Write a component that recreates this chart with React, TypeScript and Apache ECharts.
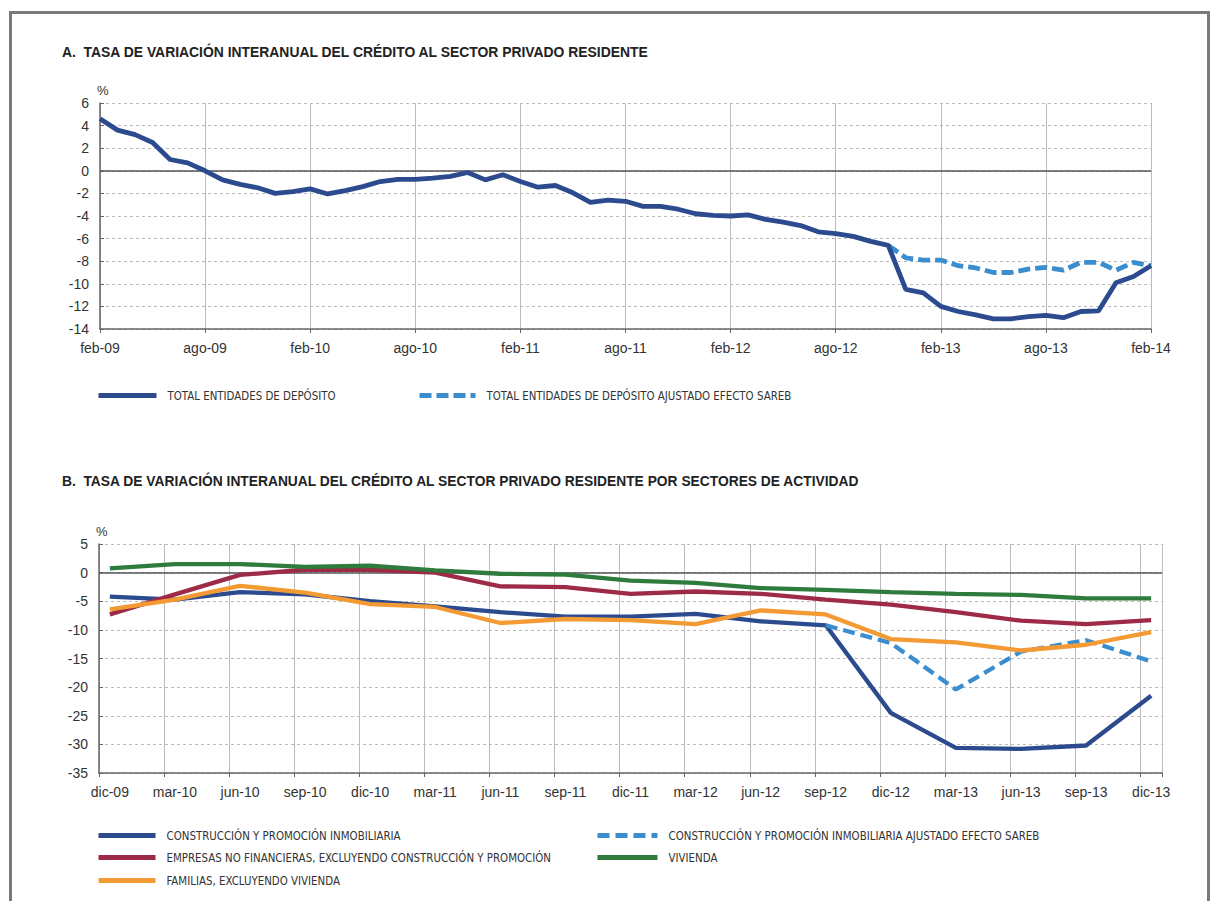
import React, { useEffect, useRef } from "react";
import * as echarts from "echarts";

const MONTHS = ["ene", "feb", "mar", "abr", "may", "jun", "jul", "ago", "sep", "oct", "nov", "dic"];
function monthLabels(startMonth: number, startYear: number, count: number): string[] {
  const out: string[] = [];
  for (let i = 0; i < count; i++) {
    const m = (startMonth + i) % 12;
    const y = startYear + Math.floor((startMonth + i) / 12);
    out.push(MONTHS[m] + "-" + String(y).padStart(2, "0"));
  }
  return out;
}

// Chart A: monthly, feb-09 .. feb-14
const catsA = monthLabels(1, 9, 61);
const totalEntidades = [
  4.6, 3.6, 3.2, 2.5, 1.0, 0.7, 0.0, -0.8, -1.2, -1.5,
  -2.0, -1.85, -1.6, -2.05, -1.75, -1.4, -0.95, -0.75, -0.75, -0.65,
  -0.5, -0.15, -0.8, -0.35, -0.95, -1.45, -1.3, -1.95, -2.8, -2.6,
  -2.7, -3.15, -3.15, -3.4, -3.8, -3.95, -4.0, -3.9, -4.3, -4.55,
  -4.85, -5.4, -5.55, -5.8, -6.25, -6.6, -10.5, -10.8, -12.0, -12.45,
  -12.75, -13.1, -13.1, -12.9, -12.8, -13.0, -12.45, -12.4, -9.9, -9.35,
  -8.4,
];
const totalAjustadoTail = [
  -6.6, -7.7, -7.9, -7.9, -8.4, -8.6, -9.0, -9.0, -8.7, -8.55, -8.8, -8.1, -8.1, -8.8, -8.1, -8.4,
];
const totalAjustado: (number | null)[] = (new Array(61 - totalAjustadoTail.length).fill(null) as (number | null)[]).concat(totalAjustadoTail);

// Chart B: monthly axis dic-09 .. dic-13, quarterly observations
const catsB = monthLabels(11, 9, 49);
const construccion = [-4.2, -4.7, -3.4, -3.8, -5.0, -5.9, -6.9, -7.7, -7.7, -7.2, -8.5, -9.2, -24.5, -30.6, -30.8, -30.2, -21.5];
const construccionSareb = [null, null, null, null, null, null, null, null, null, null, null, -9.2, -12.3, -20.4, -13.8, -11.8, -15.5];
const empresas = [-7.3, -3.8, -0.4, 0.5, 0.5, 0.0, -2.4, -2.55, -3.7, -3.3, -3.7, -4.7, -5.6, -6.9, -8.4, -9.0, -8.3];
const vivienda = [0.75, 1.5, 1.5, 1.0, 1.2, 0.4, -0.2, -0.35, -1.4, -1.8, -2.7, -3.0, -3.4, -3.7, -3.9, -4.5, -4.5];
const familias = [-6.4, -4.7, -2.3, -3.5, -5.5, -6.0, -8.8, -8.1, -8.3, -9.0, -6.6, -7.3, -11.6, -12.2, -13.6, -12.6, -10.4];

const yTicksA = { min: -14, max: 6, interval: 2 };
const yTicksB = { min: -35, max: 5, interval: 5 };

const NAME_A1 = "TOTAL ENTIDADES DE DEPÓSITO";
const NAME_A2 = "TOTAL ENTIDADES DE DEPÓSITO AJUSTADO EFECTO SAREB";
const NAME_B1 = "CONSTRUCCIÓN Y PROMOCIÓN INMOBILIARIA";
const NAME_B2 = "CONSTRUCCIÓN Y PROMOCIÓN INMOBILIARIA AJUSTADO EFECTO SAREB";
const NAME_B3 = "EMPRESAS NO FINANCIERAS, EXCLUYENDO CONSTRUCCIÓN Y PROMOCIÓN";
const NAME_B4 = "VIVIENDA";
const NAME_B5 = "FAMILIAS, EXCLUYENDO VIVIENDA";

const C_BLUE = "#2c4b8e";
const C_LBLUE = "#3a8dcf";
const C_RED = "#9d2a46";
const C_GREEN = "#2f7b3d";
const C_ORANGE = "#f39a35";

function toMonthly(q: (number | null)[]): (number | null)[] {
  const out: (number | null)[] = [];
  for (let i = 0; i < catsB.length; i++) out.push(i % 3 === 0 ? q[i / 3] : null);
  return out;
}

const FONT = "'Liberation Sans', Arial, Helvetica, sans-serif";
const LEG_FONT = "'Liberation Sans Narrow', 'Arial Narrow', 'DejaVu Sans Condensed', 'Liberation Sans', sans-serif";

function legend(name: string, left: number, top: number, w: number) {
  return {
    data: [name],
    left,
    top,
    padding: 0,
    itemWidth: w,
    itemHeight: 6,
    selectedMode: false,
    itemStyle: { opacity: 0 },
    lineStyle: { width: 5 },
    textStyle: { fontFamily: LEG_FONT, fontSize: 11.4, color: "#333", padding: [0, 0, 0, 6] },
  };
}

function yAxis(gridIndex: number, t: { min: number; max: number; interval: number }) {
  return {
    type: "value",
    gridIndex,
    min: t.min,
    max: t.max,
    interval: t.interval,
    name: "%",
    nameLocation: "end",
    nameGap: 6,
    nameTextStyle: { fontFamily: FONT, fontSize: 13, color: "#333", align: "left", padding: [0, 0, 0, -3] },
    axisLine: { show: true, lineStyle: { color: "#666", width: 1.5 } },
    axisTick: { show: true, inside: true, length: 4, lineStyle: { color: "#666" } },
    axisLabel: { fontFamily: FONT, fontSize: 14, color: "#333", margin: 11 },
    splitLine: { show: true, lineStyle: { color: "#bbb", type: [3, 3], width: 1 } },
  };
}

function zeroLine() {
  return {
    silent: true,
    symbol: "none",
    z: 1,
    label: { show: false },
    lineStyle: { color: "#555", width: 1.5, type: "solid" },
    data: [{ yAxis: 0 }],
  };
}

export default function App() {
  const ref = useRef<HTMLDivElement>(null);
  useEffect(() => {
    if (!ref.current) return;
    const chart = echarts.init(ref.current, null, { renderer: "svg" });
    const option: any = {
      animation: false,
      backgroundColor: "#fff",
      title: [
        {
          text: "A.  TASA DE VARIACIÓN INTERANUAL DEL CRÉDITO AL SECTOR PRIVADO RESIDENTE",
          left: 62,
          top: 45,
          padding: 0,
          textStyle: { fontFamily: FONT, fontSize: 13.9, fontWeight: "bold", color: "#222" },
        },
        {
          text: "B.  TASA DE VARIACIÓN INTERANUAL DEL CRÉDITO AL SECTOR PRIVADO RESIDENTE POR SECTORES DE ACTIVIDAD",
          left: 62,
          top: 474,
          padding: 0,
          textStyle: { fontFamily: FONT, fontSize: 13.8, fontWeight: "bold", color: "#222" },
        },
      ],
      legend: [
        legend(NAME_A1, 96, 390, 58),
        legend(NAME_A2, 417, 390, 56),
        legend(NAME_B1, 96, 830, 57),
        legend(NAME_B3, 96, 852, 57),
        legend(NAME_B5, 96, 875, 57),
        legend(NAME_B2, 595, 830, 60),
        legend(NAME_B4, 595, 852, 60),
      ],
      grid: [
        { left: 100, top: 103, width: 1051, height: 226 },
        { left: 99, top: 544, width: 1063, height: 229 },
      ],
      xAxis: [
        {
          type: "category",
          gridIndex: 0,
          data: catsA,
          boundaryGap: false,
          axisLine: { onZero: false, lineStyle: { color: "#666", width: 1.5 } },
          axisTick: { show: true, interval: 5, length: 4, lineStyle: { color: "#666" } },
          axisLabel: { interval: 5, fontFamily: FONT, fontSize: 14, color: "#333", margin: 12 },
          splitLine: { show: true, interval: 5, lineStyle: { color: "#bbb", width: 1 } },
        },
        {
          type: "category",
          gridIndex: 1,
          data: catsB,
          boundaryGap: true,
          axisLine: { onZero: false, lineStyle: { color: "#666", width: 1.5 } },
          axisTick: { show: true, interval: 2, length: 4, lineStyle: { color: "#666" } },
          axisLabel: { interval: 2, fontFamily: FONT, fontSize: 14, color: "#333", margin: 12 },
          splitLine: { show: true, interval: 2, lineStyle: { color: "#bbb", width: 1 } },
        },
      ],
      yAxis: [yAxis(0, yTicksA), yAxis(1, yTicksB)],
      series: [
        {
          name: NAME_A1,
          type: "line",
          xAxisIndex: 0,
          yAxisIndex: 0,
          data: totalEntidades,
          symbol: "none",
          z: 3,
          lineStyle: { color: C_BLUE, width: 4.8 },
          itemStyle: { color: C_BLUE },
          markLine: zeroLine(),
        },
        {
          name: NAME_A2,
          type: "line",
          xAxisIndex: 0,
          yAxisIndex: 0,
          data: totalAjustado,
          symbol: "none",
          z: 2,
          lineStyle: { color: C_LBLUE, width: 4.8, type: [12, 5] },
          itemStyle: { color: C_LBLUE },
        },
        {
          name: NAME_B1,
          type: "line",
          xAxisIndex: 1,
          yAxisIndex: 1,
          data: toMonthly(construccion),
          connectNulls: true,
          symbol: "none",
          lineStyle: { color: C_BLUE, width: 4.3 },
          itemStyle: { color: C_BLUE },
          markLine: zeroLine(),
        },
        {
          name: NAME_B2,
          type: "line",
          xAxisIndex: 1,
          yAxisIndex: 1,
          data: toMonthly(construccionSareb),
          connectNulls: true,
          symbol: "none",
          lineStyle: { color: C_LBLUE, width: 4.3, type: [12, 6] },
          itemStyle: { color: C_LBLUE },
        },
        {
          name: NAME_B3,
          type: "line",
          xAxisIndex: 1,
          yAxisIndex: 1,
          data: toMonthly(empresas),
          connectNulls: true,
          symbol: "none",
          lineStyle: { color: C_RED, width: 4.3 },
          itemStyle: { color: C_RED },
        },
        {
          name: NAME_B4,
          type: "line",
          xAxisIndex: 1,
          yAxisIndex: 1,
          data: toMonthly(vivienda),
          connectNulls: true,
          symbol: "none",
          lineStyle: { color: C_GREEN, width: 4.3 },
          itemStyle: { color: C_GREEN },
        },
        {
          name: NAME_B5,
          type: "line",
          xAxisIndex: 1,
          yAxisIndex: 1,
          data: toMonthly(familias),
          connectNulls: true,
          symbol: "none",
          lineStyle: { color: C_ORANGE, width: 4.3 },
          itemStyle: { color: C_ORANGE },
        },
      ],
      graphic: [
        {
          type: "rect",
          silent: true,
          shape: { x: 10.5, y: 12.5, width: 1198, height: 910 },
          style: { fill: "none", stroke: "#7a7a7a", lineWidth: 3 },
        },
      ],
    };
    chart.setOption(option);
    return () => chart.dispose();
  }, []);
  return <div ref={ref} style={{ position: "absolute", left: 0, top: 0, width: 1214, height: 901 }} />;
}
